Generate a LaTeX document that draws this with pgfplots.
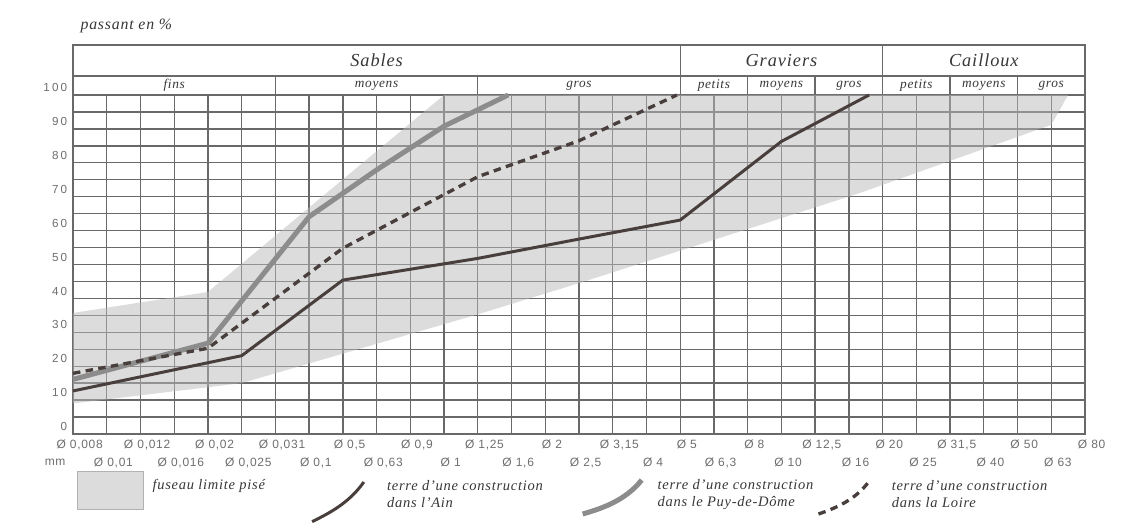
\documentclass[border=0pt]{standalone}
\usepackage{pgfplots}
\pgfplotsset{compat=1.18}
\usepackage{fontspec}
\setmainfont{Liberation Serif}[LetterSpace=5]
\newfontfamily\xtfont[LetterSpace=6]{Liberation Sans}
\newfontfamily\ytfont[LetterSpace=18]{Liberation Sans}
\definecolor{gridc}{RGB}{105,105,105}
\definecolor{bandc}{RGB}{185,185,185}
\definecolor{ainc}{RGB}{72,62,60}
\definecolor{puyc}{RGB}{140,140,140}
\definecolor{labc}{RGB}{110,110,110}
\definecolor{txtc}{RGB}{55,55,55}
\newcommand{\lo}[1]{\raisebox{-10.8pt}{#1}}
\begin{document}
\begin{tikzpicture}
\begin{axis}[
  scale only axis, width=607.2pt, height=203.4pt,
  xmin=0, xmax=30, ymin=0, ymax=100,
  clip=false,
  axis line style={gridc, line width=0.8pt},
  xtick={0,1,...,30},
  xticklabels={{Ø 0,008},{\lo{Ø 0,01}},{Ø 0,012},{\lo{Ø 0,016}},{Ø 0,02},{\lo{Ø 0,025}},{Ø 0,031},{\lo{Ø 0,1}},{Ø 0,5},{\lo{Ø 0,63}},{Ø 0,9},{\lo{Ø 1}},{Ø 1,25},{\lo{Ø 1,6}},{Ø 2},{\lo{Ø 2,5}},{Ø 3,15},{\lo{Ø 4}},{Ø 5},{\lo{Ø 6,3}},{Ø 8},{\lo{Ø 10}},{Ø 12,5},{\lo{Ø 16}},{Ø 20},{\lo{Ø 25}},{Ø 31,5},{\lo{Ø 40}},{Ø 50},{\lo{Ø 63}},{Ø 80}},
  ytick={0,10,...,100},
  yticklabels={0,10,20,30,40,50,60,70,80,90,100},
  minor ytick={5,15,...,95},
  xmajorgrids, ymajorgrids, yminorgrids,
  major tick length=0pt, minor tick length=0pt,
  major grid style={gridc, line width=0.8pt},
  minor grid style={gridc, line width=0.8pt},
  xticklabel style={font=\xtfont\fontsize{7.2}{8}\selectfont, text=labc, anchor=base, yshift=-8.4pt, xshift=4pt},
  yticklabel style={font=\ytfont\fontsize{7}{8}\selectfont, text=labc, anchor=east, yshift=4.4pt},
  legend columns=4,
  legend cell align=left,
  legend style={at={(axis description cs:0,0)}, anchor=west, xshift=2.4pt, yshift=-33.6pt,
    draw=none, fill=none, inner sep=0pt, column sep=0pt,
    nodes={inner sep=0pt, text=txtc, font=\itshape\fontsize{8.7}{10.2}\selectfont}},
]
\addplot[draw=none, fill=bandc, fill opacity=0.5,
  legend image code/.code={
    \path[draw=none, fill=none] (0pt,-20pt) rectangle (45pt,20pt);
    \fill[bandc, fill opacity=0.5, draw=gray!60, draw opacity=1] (0pt,-11.4pt) rectangle (39.6pt,11.4pt);}]
  coordinates {(0,35.7) (4,41.9) (11,100) (29.5,100) (29,91.2) (23.3,71) (15,44.5) (12,35.3) (5,15) (0,9)};
\addlegendentry{\parbox{94.8pt}{fuseau limite pisé\\\strut}}

\addplot[ainc, line width=1.8pt, line join=round,
  legend image code/.code={
    \path[draw=none, fill=none] (0pt,-20pt) rectangle (45pt,20pt);
    \draw (0pt,-19pt) .. controls (10pt,-14pt) and (22pt,-8pt) .. (31pt,4.8pt);}]
  coordinates {(0,12.7) (5,23.1) (8,45.4) (12,51.8) (15,57.5) (18,63.1) (21,86.3) (23.6,100)};
\addlegendentry{\parbox{115.8pt}{terre d’une construction\\dans l’Ain}}

\addplot[puyc, line width=3pt, line join=round,
  legend image code/.code={
    \path[draw=none, fill=none] (0pt,-20pt) rectangle (45pt,20pt);
    \draw (0pt,-14.4pt) .. controls (12pt,-11pt) and (26pt,-6pt) .. (35.4pt,6pt);}]
  coordinates {(0,16.1) (4,26.8) (7,64.1) (9,77.9) (11,90.8) (12.9,100)};
\addlegendentry{\parbox{95.5pt}{terre d’une construction\\dans le Puy-de-Dôme}}

\addplot[ainc, line width=2pt, dash pattern=on 4.5pt off 3.2pt,
  legend image code/.code={
    \path[draw=none, fill=none] (0pt,-20pt) rectangle (44pt,20pt);
    \draw (0pt,-14.4pt) .. controls (10pt,-11pt) and (22pt,-6pt) .. (30pt,4.8pt);}]
  coordinates {(0,17.9) (4,25.3) (8,54.8) (12,75.9) (15,86.5) (17.9,100)};
\addlegendentry{\parbox{115pt}{terre d’une construction\\dans la Loire}}

% header boxes
\draw[gridc, line width=0.8pt] (axis cs:0,100) -- (axis cs:0,114.7) -- (axis cs:30,114.7) -- (axis cs:30,100);
\draw[gridc, line width=0.8pt] (axis cs:0,105.6) -- (axis cs:30,105.6);
\draw[gridc, line width=0.8pt] (axis cs:18,100) -- (axis cs:18,114.7);
\draw[gridc, line width=0.8pt] (axis cs:24,100) -- (axis cs:24,114.7);
\draw[gridc, line width=0.8pt] (axis cs:6,100) -- (axis cs:6,105.6);
\draw[gridc, line width=0.8pt] (axis cs:12,100) -- (axis cs:12,105.6);
\draw[gridc, line width=0.8pt] (axis cs:20,100) -- (axis cs:20,105.6);
\draw[gridc, line width=0.8pt] (axis cs:22,100) -- (axis cs:22,105.6);
\draw[gridc, line width=0.8pt] (axis cs:26,100) -- (axis cs:26,105.6);
\draw[gridc, line width=0.8pt] (axis cs:28,100) -- (axis cs:28,105.6);
\node[text=txtc, font=\itshape\fontsize{11}{12}\selectfont] at (axis cs:9,110.2) {Sables};
\node[text=txtc, font=\itshape\fontsize{11}{12}\selectfont] at (axis cs:21,110.2) {Graviers};
\node[text=txtc, font=\itshape\fontsize{11}{12}\selectfont] at (axis cs:27,110.2) {Cailloux};
\node[text=txtc, font=\itshape\fontsize{8}{9}\selectfont] at (axis cs:3,102.8) {fins};
\node[text=txtc, font=\itshape\fontsize{8}{9}\selectfont] at (axis cs:9,102.8) {moyens};
\node[text=txtc, font=\itshape\fontsize{8}{9}\selectfont] at (axis cs:15,102.8) {gros};
\node[text=txtc, font=\itshape\fontsize{8}{9}\selectfont] at (axis cs:19,102.8) {petits};
\node[text=txtc, font=\itshape\fontsize{8}{9}\selectfont] at (axis cs:21,102.8) {moyens};
\node[text=txtc, font=\itshape\fontsize{8}{9}\selectfont] at (axis cs:23,102.8) {gros};
\node[text=txtc, font=\itshape\fontsize{8}{9}\selectfont] at (axis cs:25,102.8) {petits};
\node[text=txtc, font=\itshape\fontsize{8}{9}\selectfont] at (axis cs:27,102.8) {moyens};
\node[text=txtc, font=\itshape\fontsize{8}{9}\selectfont] at (axis cs:29,102.8) {gros};
\node[anchor=base west, text=txtc, font=\itshape\fontsize{9.5}{11}\selectfont] at (axis cs:0.05,119.2) {passant en \%};
\node[text=labc, font=\xtfont\fontsize{7.2}{8}\selectfont] at (axis cs:-0.53,-8.3) {mm};
\end{axis}
\pgfresetboundingbox
\path[use as bounding box] (-43.8pt,-58.2pt) rectangle (635.4pt,260.4pt);
\end{tikzpicture}
\end{document}
